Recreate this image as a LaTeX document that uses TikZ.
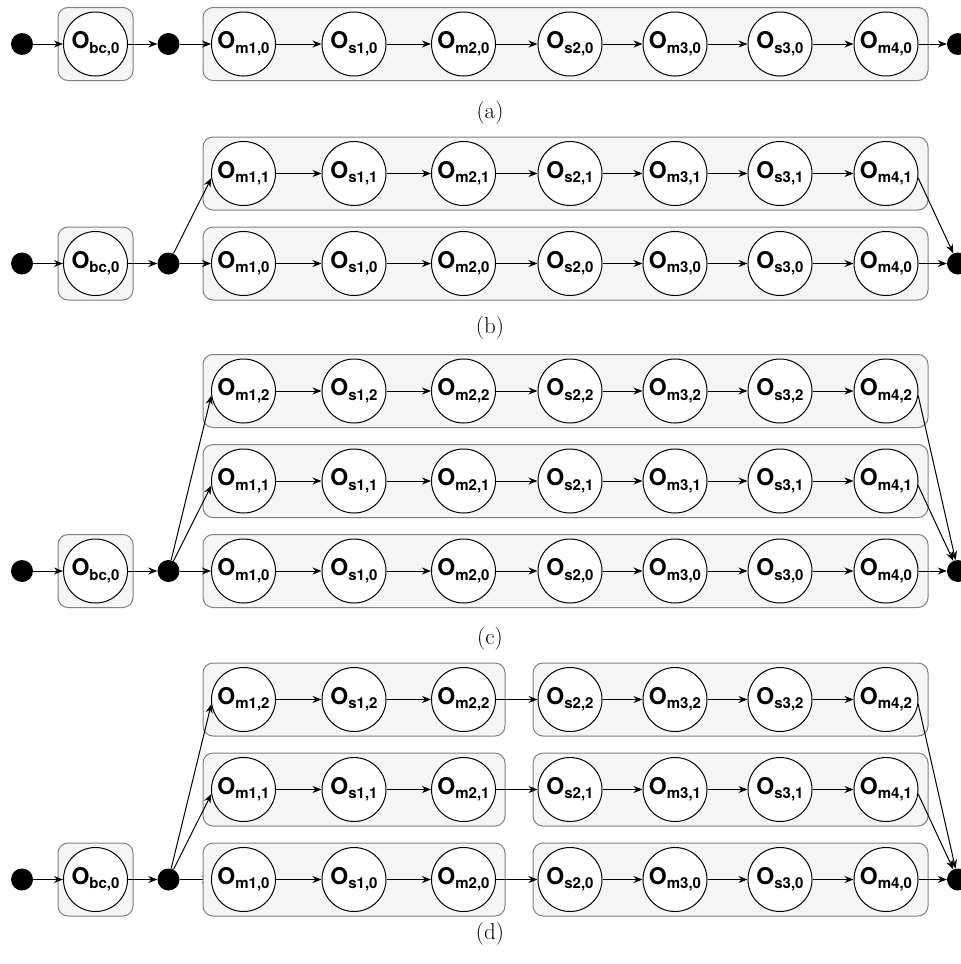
\documentclass[tikz,border=0pt]{standalone}
\usepackage{fontspec}
\newfontfamily\heros{TeX Gyre Heros}
\usepackage{tikz}
\usetikzlibrary{arrows.meta,backgrounds}
\newcommand{\olbl}[1]{{\heros\bfseries\fontsize{23}{23}\selectfont
  O\raisebox{-4.5pt}{\fontsize{15}{15}\selectfont #1}}}

\begin{document}
\begin{tikzpicture}[
  x=1pt, y=-1pt,
  state/.style={circle, draw, fill=white, line width=1pt,
                minimum size=64pt, inner sep=0pt},
  blob/.style={circle, fill=black, minimum size=22pt, inner sep=0pt},
  grp/.style={draw=black!50, fill=black!4, line width=1pt,
              rounded corners=10pt},
  flow/.style={-{Stealth[length=9pt,width=7pt]}, line width=1pt},
  subcap/.style={font=\fontsize{23}{26}\selectfont}]
\useasboundingbox (0,0) rectangle (961,964);

% ---- the grey boxes: O_bc on its own, then one box per chain; in (d)
% each chain is cut after O_m2 -------------------------------------------
\foreach \yy in {44,263.5,571,879.5}
  \draw[grp] (58,\yy-36.5) rectangle (133,\yy+36.5);
\foreach \yy in {44,173.5,263.5,391,481,571}
  \draw[grp] (203,\yy-36.5) rectangle (928,\yy+36.5);
\foreach \yy in {699.5,789.5,879.5}{
  \draw[grp] (203,\yy-36.5) rectangle (505,\yy+36.5);
  \draw[grp] (533,\yy-36.5) rectangle (928,\yy+36.5);}

% ---- head of each panel: source, O_bc, fork, and the sink ---------------
\foreach \pn/\yy in {a/44,b/263.5,c/571,d/879.5}{
  \node[blob]  (\pn-in)   at (22,\yy) {};
  \node[state] (\pn-bc)   at (95.5,\yy) {\olbl{bc,0}};
  \node[blob]  (\pn-fork) at (168.5,\yy) {};
  \node[blob]  (\pn-out)  at (958,\yy) {};
  \draw[flow] (\pn-in) -- (\pn-bc);
  \draw[flow] (\pn-bc) -- (\pn-fork);}

% ---- the chains O_m1 -> O_s1 -> ... -> O_m4, one per copy --------------
\foreach \pn/\rr/\yy in {a/0/44, b/0/263.5, b/1/173.5,
                         c/0/571, c/1/481, c/2/391,
                         d/0/879.5, d/1/789.5, d/2/699.5}{
  \foreach \nm/\xx in {m1/243.5,s1/354,m2/463.5,s2/570,m3/675,s3/780,m4/886}
    \node[state] (\pn-\nm-\rr) at (\xx,\yy) {\olbl{\nm,\rr}};
  \foreach \ua/\ub in {m1/s1,s1/m2,m2/s2,s2/m3,m3/s3,s3/m4}
    \draw[flow] (\pn-\ua-\rr) -- (\pn-\ub-\rr);}

% ---- fork into the copies, join into the sink ---------------------------
\foreach \pn in {a,b,c}
  \draw[flow] (\pn-fork) -- (\pn-m1-0);
\foreach \pn in {a,b,c,d}
  \draw[flow] (\pn-m4-0) -- (\pn-out);
\foreach \pn/\rr in {b/1,c/1,c/2,d/1,d/2}{
  \draw[flow] (\pn-fork) -- (\pn-m1-\rr.188);
  \draw[flow] (\pn-m4-\rr.352) -- (\pn-out);}
% in (d) the first arrow runs under the box
\begin{pgfonlayer}{background}
  \draw[flow] (d-fork) -- (d-m1-0);
\end{pgfonlayer}

% ---- captions ------------------------------------------------------------
\node[subcap] (cap-a) at (490,113) {(a)};
\node[subcap] (cap-b) at (490,328) {(b)};
\node[subcap] (cap-c) at (490,639) {(c)};
\node[subcap] (cap-d) at (490,934) {(d)};
\end{tikzpicture}
\end{document}
